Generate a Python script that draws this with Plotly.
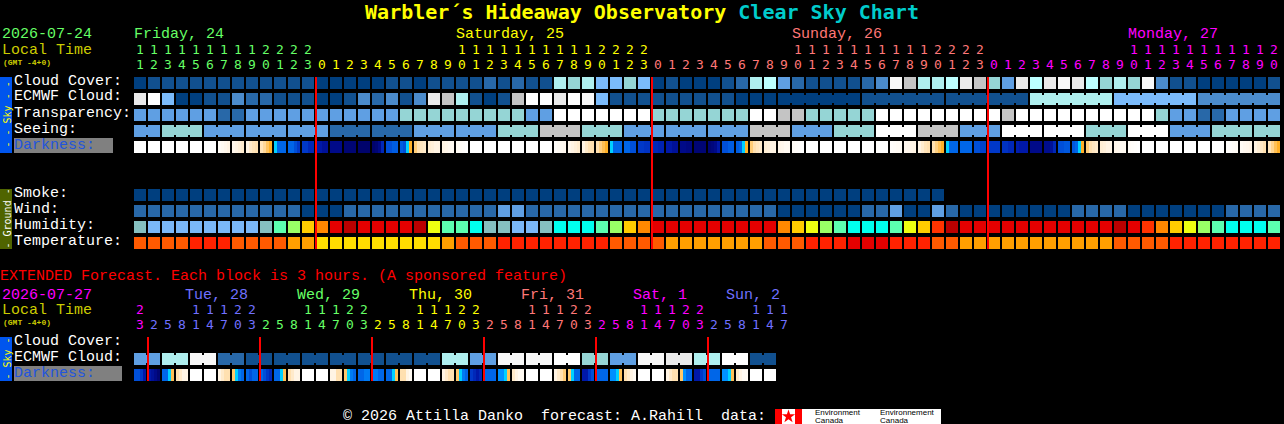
import plotly.graph_objects as go

W, H = 1284, 424
MONO = "Liberation Mono"
DIGITS = "DejaVu Sans Mono"

# ---------- palettes (codes used by the rows below) ----------
SKY_COLORS = ["#003F7F", "#11508F", "#2868A8", "#4B8BCB", "#5F9FE3", "#7BBBFB", "#95D5D5",
              "#AFEFEF", "#BCFFFF", "#C4C4C4", "#EAEAEA", "#F8F8F8", "#FFFFFF"]
HUM_COLORS = ["#85C0C0", "#7AB8F8", "#5CFFB0", "#99FF66", "#FFCC00", "#FF8800", "#E40000",
              "#BB0000", "#EEFF11", "#00FFEE", "#FF3300"]
TEMP_COLORS = ["#FF5A00", "#FF2200", "#FF9F00", "#FFDD00", "#E40000"]
DARK_STOPS = [(0, "#FFFFFF"), (1, "#FFF4E4"), (2, "#FFE0B0"), (3.4, "#FFA810"), (3.5, "#00E0FF"),
              (4, "#0090FF"), (5, "#0066E8"), (6, "#0038C8"), (7, "#0018A8"), (8, "#000A88"), (9, "#000060")]

# ---------- hourly forecast rows ----------
HOURS = [11,12,13,14,15,16,17,18,19,20,21,22,23,
         0,1,2,3,4,5,6,7,8,9,10,11,12,13,14,15,16,17,18,19,20,21,22,23,
         0,1,2,3,4,5,6,7,8,9,10,11,12,13,14,15,16,17,18,19,20,21,22,23,
         0,1,2,3,4,5,6,7,8,9,10,11,12,13,14,15,16,17,18,19,20]
HOUR_COLORS = ["#66FF66"]*13 + ["#FFFF00"]*24 + ["#FF7777"]*24 + ["#FF00FF"]*21

CLOUD = [0,1,1,1,1,1,1,1,1,1,1,1,1, 0,0,0,0,0,1,1,0,1,1,1,1,2,1,2,1,1,7,6,7,5,5,6,5,
         0,1,0,0,0,1,2,7,8,4,2,1,1,1,1,2,3,11,9,7,7,8,10,9,
         6,4,10,8,10,11,10,8,6,7,6,11,3,1,1,0,0,0,0,0,1]
ECMWF = [10,12,5,0,0,1,1,3,2,2,1,1,1, 0,0,1,3,2,3,1,3,10,9,7,1,0,1,9,12,12,10,12,11,5,1,1,1,
         1,1,1,1,1,1,0,0,0,0,0,0,0,0,0,1,1,1,1,1,1,1,1,1,
         1,1,1,7,7,7,7,7,7,5,5,5,5,5,5,3,3,3,3,3,3]
ECMWF_GROUPS = [0,1,2,3,4,5,6,7,8,9,10,11,12,13,14,15,16,17,18,19,20,21,22,23,24,25,26,27,28,29,30,31,32,33,34,35,36,
                37,38,39,40,41,42,43,44,45,46,46,46,46,46,46,52,52,52,52,52,52,58,58,58,58,58,58,
                64,64,64,64,64,64,70,70,70,70,70,70,76,76,76,76,76,76][:82]
TRANSP = [4,4,4,4,4,4,2,2,4,4,4,4,4, 4,4,4,4,4,4,6,6,6,6,6,6,6,6,6,4,4,12,12,12,12,12,12,12,
          6,6,6,6,6,6,6,12,12,9,9,6,6,6,6,6,12,12,12,12,12,12,12,12,
          12,9,12,12,12,12,12,12,12,12,12,12,6,4,4,2,2,4,4,4,4]
SEEING = [4,4,6,6,6,4,4,4,4,4,4,4,4, 4,2,2,2,2,2,2,4,4,4,4,4,4,6,6,6,9,9,9,6,6,6,4,4,
          4,4,4,4,4,4,4,9,9,9,4,4,4,6,6,6,12,12,12,9,9,9,4,4,
          4,12,12,12,12,12,12,6,6,6,12,12,12,4,4,4,6,6,6,6,6]
SEEING_GROUPS = [0,0,2,2,2,5,5,5,8,8,8,11,11, 11,14,14,14,17,17,17,20,20,20,23,23,23,26,26,26,29,29,29,32,32,32,35,35,
                 35,38,38,38,41,41,41,44,44,44,47,47,47,50,50,50,53,53,53,56,56,56,59,59,
                 59,62,62,62,65,65,65,68,68,68,71,71,71,74,74,74,77,77,77,80,80]
DARKNESS = [(0,0,0,0)]*6 + [
    (.3,.5,.7,1),(.7,1,1.2,1.4),(1,1.5,1.8,2),(1.8,2.2,2.7,3.2),(3.6,5,5,5),(5,5,5.5,6),(6,6,6.5,6.5),
    (7,7,7.5,7.5),(8,8,8,8),(8.5,8.5,8.5,8.5),(8.7,8.7,8.7,8.7),(8.7,8.5,8,6.5),(5.5,5.5,5.2,5.2),(5.2,5.5,3.6,3.2),
    (2.5,2,1.7,1.5),(1.3,1.2,1,1),(1,.8,.6,.5),(.4,.3,.2,0),
    (0,0,0,0),(0,0,0,0),(0,0,0,0),(0,0,0,0),(0,0,0,0),(0,0,0,0),
    (.2,.4,.5,.6),(.7,1,1.2,1.4),(1,1.5,1.9,2),(2,2.4,2.8,3.2),(3.6,5,5,5),(5,5,5.5,5.5),(6,6,6.2,6.2),
    (6.5,6.5,6.7,6.7),(7,7,7.5,7.5),(8,8,8.2,8.2),(8.5,8.5,8.5,8.5),(8.5,8.3,8,7),(5.5,5.5,5.2,5.2),(5.2,5,3.6,3.2),
    (2.5,2,1.7,1.5),(1.3,1.2,1,1),(.8,.7,.5,.5),(.3,.2,.1,0),
    (0,0,0,0),(0,0,0,0),(0,0,0,0),(0,0,0,0),(0,0,0,0),(.1,0,0,0),
    (.2,.3,.4,.4),(.6,.7,.9,1),(1,1.4,1.8,2),(2,2.4,2.8,3.2),(3.6,5,5,5),(5,5,5,5),(5.5,5.5,5.8,5.8),
    (6,6,6,6),(6.2,6.2,6.5,6.5),(6.8,7,7,7),(8,8,8,8),(7.8,7.8,7.5,6.5),(5.5,5.5,5.3,5.3),(5.3,5,3.6,3.2),
    (2.5,2,1.7,1.5),(1.3,1.2,1,1),(.8,.7,.5,.5),(.3,.2,.1,0),
    (0,0,0,0),(0,0,0,0),(0,0,0,0),(0,0,0,0),(0,0,0,0),(0,0,0,0),
    (.1,.2,.3,.4),(.4,.6,.7,.9),(1,1.3,1.6,2),(1.8,2.3,2.8,3.2)]
SMOKE = [0]*58
WIND = [2,2,2,2,2,2,2,2,2,2,2,2,0, 0,0,2,2,2,2,2,2,2,2,2,2,2,4,4,2,2,2,2,2,2,2,2,2,
        2,2,2,2,2,2,2,2,2,0,0,0,0,0,0,2,2,4,0,0,4,2,0,0,
        0,0,0,0,0,0,2,2,2,2,0,0,0,0,0,0,0,2,2,2,2]
HUMIDITY = [0,1,1,1,1,1,1,1,1,0,2,3,4, 5,6,7,6,6,6,6,7,8,2,2,9,0,0,1,1,0,9,9,9,2,3,4,5,
            6,6,6,6,6,6,6,6,6,5,4,8,3,2,9,9,9,2,8,4,10,7,6,6,
            6,6,6,6,6,6,6,6,6,7,6,10,5,4,8,3,2,9,9,9,2]
TEMPERATURE = [0,0,0,0,1,1,1,0,0,0,0,2,2, 3,3,3,3,3,3,3,3,3,2,0,0,0,1,1,1,1,1,1,1,1,0,0,0,
               0,2,2,2,2,2,2,2,0,0,0,1,1,1,4,4,4,1,1,1,0,0,2,2,
               2,2,2,2,2,2,2,2,2,0,0,0,0,1,1,1,1,1,1,1,1]

# ---------- extended (3-hourly) forecast rows ----------
EXT_HOURS = [23, 2,5,8,11,14,17,20,23, 2,5,8,11,14,17,20,23, 2,5,8,11,14,17,20,23,
             2,5,8,11,14,17,20,23, 2,5,8,11,14,17,20,23, 2,5,8,11,14,17]
EXT_COLORS = ["#FF00FF"] + ["#7070FF"]*8 + ["#66FF66"]*8 + ["#FFFF00"]*8 + ["#FF7777"]*8 + ["#FF00FF"]*8 + ["#7070FF"]*6
EXT_ECMWF = [4,4,7,7,11,11,2,2,1,1,1,1,1,1,1,1,1,1,1,1,1,1,7,7,4,4,11,11,11,11,12,12,6,6,4,4,11,11,10,10,7,7,12,12,1,1]
EXT_GROUPS = [0,0,2,2,4,4,6,6,8,8,10,10,12,12,14,14,16,16,18,18,20,20,22,22,24,24,26,26,28,28,30,30,32,32,34,34,36,36,38,38,40,40,42,42,44,44]
EXT_DARK = [(5.5,5.5,6,7),(7,7.5,8,8.5),(5,5,3.6,2.8),(2,1.5,1,1),(0,0,0,0),(0,0,0,0),(1,1.5,2,2),(2.6,3.6,4.5,5),
            (5,5.5,5,5),(5,5.5,6,6.5),(5,5,3.6,2.8),(2,1.5,1,1),(0,0,0,0),(0,0,0,0),(1,1,2,2),(2.6,3.6,4.5,5),
            (5,5,4.5,4.5),(4.5,4.5,5,5),(5,5,3.6,2.8),(2,2,1,.5),(0,0,0,0),(0,0,0,0),(1,1.5,2,2),(2.6,3.6,4.5,5),
            (6,6.5,7,6.5),(5,5,5,5),(4,4,3.6,2.8),(1.5,1,.5,.5),(0,0,0,0),(0,0,0,0),(1,1.5,2,2.5),(2.6,3.6,5,5),
            (7,7,6,5.5),(5,5,5,5),(4,4,3.6,2.8),(2,1.5,1,.5),(0,0,0,0),(0,0,0,0),(1,1.5,2,2),(2.6,4,5,5),
            (7,7,6,5.5),(5,5,5,5),(4,4,3.6,2.8),(1.5,1,.5,.5),(0,0,0,0),(0,0,0,0)]

MIDNIGHTS = [13, 37, 61]
EXT_MIDNIGHTS = [1, 9, 17, 25, 33, 41]

# ---------- label tables ----------
TITLE_PARTS = [("Warbler´s Hideaway Observatory ", "#FFFF00"), ("Clear Sky Chart", "#00CCCC")]
DAYS = [("Friday, 24", 0, "#66FF66"), ("Saturday, 25", 23, "#FFFF00"), ("Sunday, 26", 47, "#FF7777"), ("Monday, 27", 71, "#FF00FF")]
EXT_DAYS = [("Tue, 28", 3.64, "#7070FF"), ("Wed, 29", 11.64, "#66FF66"), ("Thu, 30", 19.64, "#FFFF00"),
            ("Fri, 31", 27.64, "#FF7777"), ("Sat, 1", 35.64, "#FF00FF"), ("Sun, 2", 42.29, "#7070FF")]
SKY_LABELS = ["Cloud Cover:", "ECMWF Cloud:", "Transparency:", "Seeing:"]
GROUND_LABELS = ["Smoke:", "Wind:", "Humidity:", "Temperature:"]

# ---------- row positions (one row unit = 16 px, one block = 14 px) ----------
ROW_CLOUD, ROW_ECMWF, ROW_TRANSP, ROW_SEEING, ROW_DARK = 0, 1, 2, 3, 4
ROW_SMOKE, ROW_WIND, ROW_HUM, ROW_TEMP = 7, 8, 9, 10
ROW_EXT_ECMWF, ROW_EXT_DARK = 17.25, 18.25
BLOCK = 12 / 14
TIER_TENS, TIER_ONES = -1.63, -0.69
EXT_TENS, EXT_ONES = 14.63, 15.56


def scale(colors):
    n = len(colors) - 1
    return [[k / n, c] for k, c in enumerate(colors)]


def cells(fig, values, row, colors):
    """Row of separated blocks."""
    xs, zs = [], []
    for i, v in enumerate(values):
        xs += [i, i + BLOCK]
        zs += [v, None]
    xs.append(len(values))
    fig.add_trace(go.Heatmap(x=xs, y=[row, row + 0.75], z=[zs], colorscale=scale(colors), zmin=0, zmax=len(colors) - 1,
                             showscale=False, hoverinfo="skip", zsmooth=False))


def bridges(fig, values, groups, row, colors):
    """Short joins between blocks of one forecast group."""
    xs, zs = [], []
    for i in range(len(values) - 1):
        if groups[i] == groups[i + 1]:
            xs += [i + BLOCK, i + 1]
            zs += [values[i], None]
    xs.append(xs[-1] + 1)
    fig.add_trace(go.Heatmap(x=xs, y=[row + 2 / 16, row + 10 / 16], z=[zs], colorscale=scale(colors), zmin=0,
                             zmax=len(colors) - 1, showscale=False, hoverinfo="skip", zsmooth=False))


def dark_cells(fig, values, row):
    xs, zs = [], []
    for i, tup in enumerate(values):
        for k, v in enumerate(tup):
            xs.append(i + k * 3 / 14)
            zs.append(v)
        xs.append(i + BLOCK)
        zs.append(None)
    xs.append(len(values))
    stops = [[v / 9, c] for v, c in DARK_STOPS]
    fig.add_trace(go.Heatmap(x=xs, y=[row, row + 0.75], z=[zs], colorscale=stops, zmin=0, zmax=9,
                             showscale=False, hoverinfo="skip", zsmooth=False))


def hour_text(fig, hours, colors, tens_y, ones_y):
    cx = [i + 6 / 14 for i in range(len(hours))]
    fig.add_trace(go.Scatter(x=cx, y=[ones_y] * len(hours), mode="text", text=[str(h % 10) for h in hours],
                             textfont=dict(family=DIGITS, size=13, color=colors), textposition="middle center",
                             hoverinfo="skip", showlegend=False))
    idx = [i for i, h in enumerate(hours) if h >= 10]
    fig.add_trace(go.Scatter(x=[cx[i] for i in idx], y=[tens_y] * len(idx), mode="text",
                             text=[str(hours[i] // 10) for i in idx],
                             textfont=dict(family=DIGITS, size=13, color=[colors[i] for i in idx]),
                             textposition="middle center", hoverinfo="skip", showlegend=False))


def midnight_lines(fig, where, y0, y1):
    xs, ys = [], []
    for m in where:
        xs += [m, m, None]
        ys += [y0, y1, None]
    fig.add_trace(go.Scatter(x=xs, y=ys, mode="lines", line=dict(color="#FF0000", width=2), hoverinfo="skip", showlegend=False))


def px(x):
    return x / W


def py(y):
    return 1 - y / H


def note(text, x, y, color="#FFFFFF", size=15, bold=False, family=MONO, anchor="left", angle=0):
    return dict(text=("<b>%s</b>" % text) if bold else text, x=px(x), y=py(y), xref="paper", yref="paper",
                xanchor=anchor, yanchor="middle", showarrow=False, textangle=angle, borderpad=0, borderwidth=0,
                font=dict(family=family, size=size, color=color))


def rect(x0, y0, x1, y1, color):
    return dict(type="rect", xref="paper", yref="paper", x0=px(x0), x1=px(x1), y0=py(y0), y1=py(y1),
                fillcolor=color, line=dict(width=0), layer="below")


fig = go.Figure()

cells(fig, CLOUD, ROW_CLOUD, SKY_COLORS)
cells(fig, ECMWF, ROW_ECMWF, SKY_COLORS)
bridges(fig, ECMWF, ECMWF_GROUPS, ROW_ECMWF, SKY_COLORS)
cells(fig, TRANSP, ROW_TRANSP, SKY_COLORS)
cells(fig, SEEING, ROW_SEEING, SKY_COLORS)
bridges(fig, SEEING, SEEING_GROUPS, ROW_SEEING, SKY_COLORS)
dark_cells(fig, DARKNESS, ROW_DARK)
cells(fig, SMOKE, ROW_SMOKE, SKY_COLORS)
cells(fig, WIND, ROW_WIND, SKY_COLORS)
cells(fig, HUMIDITY, ROW_HUM, HUM_COLORS)
cells(fig, TEMPERATURE, ROW_TEMP, TEMP_COLORS)
cells(fig, EXT_ECMWF, ROW_EXT_ECMWF, SKY_COLORS)
bridges(fig, EXT_ECMWF, EXT_GROUPS, ROW_EXT_ECMWF, SKY_COLORS)
dark_cells(fig, EXT_DARK, ROW_EXT_DARK)

hour_text(fig, HOURS, HOUR_COLORS, TIER_TENS, TIER_ONES)
hour_text(fig, EXT_HOURS, EXT_COLORS, EXT_TENS, EXT_ONES)

midnight_lines(fig, MIDNIGHTS, 0, 10.75)
midnight_lines(fig, EXT_MIDNIGHTS, 16.25, 19)

# logo maple leaf, as a marker on the logo's flag
fig.add_trace(go.Scatter(x=[(788.5 - 134) / 14], y=[(416.5 - 77) / 16], mode="markers",
                         marker=dict(symbol="star", size=10, color="#FF0000"), hoverinfo="skip", showlegend=False))

ann = []
for text, idx, color in DAYS:
    ann.append(note(text, 134 + 14 * idx, 35, color))
for text, idx, color in EXT_DAYS:
    ann.append(note(text, 134 + 14 * idx, 295, color))
ann += [
    note("2026-07-24", 2, 35, "#66FF66"),
    note("Local Time", 2, 50, "#CCCC00"),
    note("(GMT -4+0)", 3, 62, "#CCCC00", size=8, bold=True),
    note("EXTENDED Forecast. Each block is 3 hours. (A sponsored feature)", 0, 276, "#FF0000"),
    note("2026-07-27", 2, 295, "#FF00FF"),
    note("Local Time", 2, 310, "#CCCC00"),
    note("(GMT -4+0)", 3, 322, "#CCCC00", size=8, bold=True),
    note("Cloud Cover:", 14, 341),
    note("ECMWF Cloud:", 14, 357),
    note("Darkness:", 14, 373, "#2255DD"),
    note("Darkness:", 14, 145, "#2255DD"),
    note("- - Sky - -", 6.5, 115, "#FFFF00", size=10, family="DejaVu Sans Mono", angle=-90, anchor="center"),
    note("- Ground -", 6.5, 219, "#FFFFFF", size=10, family="DejaVu Sans Mono", angle=-90, anchor="center"),
    note("- Sky -", 6.5, 359, "#FFFF00", size=10, family="DejaVu Sans Mono", angle=-90, anchor="center"),
    note("©\u00a02026\u00a0Attilla\u00a0Danko\u00a0\u00a0forecast:\u00a0A.Rahill\u00a0\u00a0data:", 343, 416),
    note("Environment", 815, 412.5, "#000000", size=8, family="Liberation Sans"),
    note("Canada", 815, 420.5, "#000000", size=8, family="Liberation Sans"),
    note("Environnement", 880, 412.5, "#000000", size=8, family="Liberation Sans"),
    note("Canada", 880, 420.5, "#000000", size=8, family="Liberation Sans"),
]
for k, t in enumerate(SKY_LABELS):
    ann.append(note(t, 14, 81 + 16 * k))
for k, t in enumerate(GROUND_LABELS):
    ann.append(note(t, 14, 193 + 16 * k))

shapes = [
    rect(0, 77, 12, 153, "#0055EE"),
    rect(0, 189, 12, 249, "#4F6400"),
    rect(0, 337, 12, 381, "#0055EE"),
    rect(14, 138, 113, 153, "#808080"),
    rect(14, 366, 122, 381, "#808080"),
    rect(775, 409, 941, 424, "#FFFFFF"),
    rect(775, 409, 782, 424, "#FF0000"),
    rect(795, 409, 802, 424, "#FF0000"),
]

title = "".join('<span style="color:%s">%s</span>' % (c, t) for t, c in TITLE_PARTS)
fig.update_layout(
    width=W, height=H, margin=dict(l=0, r=0, t=0, b=0), autosize=False,
    paper_bgcolor="#000000", plot_bgcolor="#000000", showlegend=False,
    title=dict(text="<b>%s</b>" % title, x=0.5, xanchor="center", y=1 - 12 / H, yanchor="middle", yref="container",
               font=dict(family="DejaVu Sans Mono", size=20)),
    xaxis=dict(range=[-134 / 14, (W - 134) / 14], visible=False, fixedrange=True),
    yaxis=dict(range=[(H - 77) / 16, -77 / 16], visible=False, fixedrange=True),
    annotations=ann, shapes=shapes,
)
fig.write_html("out.html", config=dict(displayModeBar=False),
               post_script="document.body.style.margin='0';document.body.style.background='#000';document.documentElement.style.overflow='hidden';")
